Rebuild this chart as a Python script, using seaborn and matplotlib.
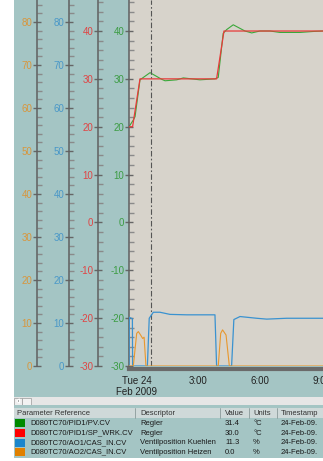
import matplotlib
matplotlib.use('Agg')
import matplotlib.pyplot as plt
import matplotlib.ticker as mticker
from matplotlib.patches import Rectangle, Polygon
import seaborn as sns

sns.set_style('white')
plt.rcParams['font.family'] = ['Liberation Sans', 'DejaVu Sans']
plt.rcParams['axes.unicode_minus'] = False

# Zeit in Stunden ab Tue 24 Feb 2009 00:00
t_sp = [-0.375, -0.2, 0.16, 3.89, 4.25, 9.07]
sp = [20, 20, 30, 30, 40, 40]

t_pv = [-0.36, -0.165, -0.08, 0.16, 0.65, 1.22, 1.38, 1.95, 2.27, 3.08, 3.81, 3.97,
        4.21, 4.38, 4.70, 5.27, 5.60, 6.0, 6.49, 6.97, 7.95, 8.58, 9.07]
pv = [20.1, 21.4, 22.1, 29.8, 31.3, 29.9, 29.6, 29.8, 30.2, 29.8, 30.0, 30.3,
      39.5, 40.3, 41.3, 40.0, 39.6, 40.0, 40.0, 39.7, 39.7, 39.9, 40.0]

t_kue = [-0.375, -0.36, -0.21, -0.2, 0.52, 0.61, 0.81, 1.13, 1.62, 2.43, 3.81, 3.89,
         4.62, 4.73, 5.03, 5.84, 6.33, 7.3, 8.76, 9.07]
kue = [0, 11.3, 11.0, 0, 0, 11.1, 12.5, 12.5, 12.0, 11.9, 11.9, 0,
       0, 10.8, 11.5, 11.1, 10.9, 11.1, 11.1, 11.1]

t_hei = [-0.375, -0.165, 0.0, 0.08, 0.19, 0.29, 0.36, 0.45, 3.97, 4.09, 4.18, 4.35, 4.51, 9.07]
hei = [0, 0, 7.6, 8.0, 7.2, 6.4, 6.7, 0, 0, 7.6, 8.4, 7.2, 0, 0]

t_cursor = 0.68
x_ticks = [0, 3, 6, 9]
x_labels = ['Tue 24\nFeb 2009', '3:00', '6:00', '9:00']

# Tabelle
refs = ['D080TC70/PID1/PV.CV', 'D080TC70/PID1/SP_WRK.CV', 'D080TC70/AO1/CAS_IN.CV', 'D080TC70/AO2/CAS_IN.CV']
descs = ['Regler', 'Regler', 'Ventilposition Kuehlen', 'Ventilposition Heizen']
values = ['31.4', '30.0', '11.3', '0.0']
units = ['°C', '°C', '%', '%']
stamps = ['24-Feb-09.', '24-Feb-09.', '24-Feb-09.', '24-Feb-09.']
swatches = ['#008a00', '#ff0000', '#1a86cc', '#e08000']
headers = ['Parameter Reference', 'Descriptor', 'Value', 'Units', 'Timestamp']

teal = '#a4c5c4'
beige = '#d7d3cb'
c_green, c_red, c_blue, c_orange = '#3aa83a', '#e83a3a', '#3a92d0', '#e8982e'
l_green, l_red, l_blue, l_orange = '#3c9c44', '#e04444', '#4a98c8', '#d8963c'

W, H = 323, 461
fig = plt.figure(figsize=(W / 100, H / 100), dpi=100)
fig.add_artist(Rectangle((14 / W, 3 / H), (W - 14) / W, 458 / H, transform=fig.transFigure,
                         facecolor=teal, edgecolor='none', zorder=-1))

ax = fig.add_axes([129 / W, (H - 366) / H, 194 / W, 366 / H])
ax.set_facecolor(beige)
ax_r = ax.twinx()
ax_b = ax.twinx()
ax_o = ax.twinx()

sns.lineplot(x=t_sp, y=sp, ax=ax, color=c_red, linewidth=0.9, estimator=None, zorder=3)
sns.lineplot(x=t_pv, y=pv, ax=ax, color=c_green, linewidth=0.8, estimator=None, zorder=2)
sns.lineplot(x=t_kue, y=kue, ax=ax_b, color=c_blue, linewidth=0.9, estimator=None)
sns.lineplot(x=t_hei, y=hei, ax=ax_b, color=c_orange, linewidth=0.8, estimator=None)
ax.axvline(t_cursor, color='#555555', linewidth=0.8, linestyle=(0, (5, 2, 1.5, 2)))

ax.set_xlim(-0.375, 9.07)
for a in (ax, ax_r):
    a.set_ylim(-30, 46.48)
for a in (ax_b, ax_o):
    a.set_ylim(0, 85.1)

ax.set_xticks(x_ticks)
ax.set_xticklabels(x_labels)
ax.xaxis.set_minor_locator(mticker.MultipleLocator(1))
ax.tick_params(axis='x', which='major', direction='inout', length=8, width=1, color='#555555',
               labelsize=7, labelcolor='#222222', pad=0.5)
ax.tick_params(axis='x', which='minor', direction='in', length=3.5, width=1, color='#666666')
ax.spines['bottom'].set_position(('outward', 2.5))
ax.spines['bottom'].set_linewidth(3)
ax.spines['bottom'].set_color('#6a6a6a')

for a, pos, col in [(ax, 0, l_green), (ax_r, -0.1598, l_red),
                    (ax_b, -0.3093, l_blue), (ax_o, -0.4742, l_orange)]:
    a.set_xlabel('')
    a.set_ylabel('')
    for s in ('top', 'right'):
        a.spines[s].set_visible(False)
    if a is not ax:
        a.spines['bottom'].set_visible(False)
        a.yaxis.tick_left()
    a.spines['left'].set_visible(True)
    a.spines['left'].set_position(('axes', pos))
    a.spines['left'].set_color('#606060')
    a.spines['left'].set_linewidth(1.1)
    a.yaxis.set_major_locator(mticker.MultipleLocator(10))
    a.yaxis.set_minor_locator(mticker.MultipleLocator(2))
    a.tick_params(axis='y', which='major', direction='inout', length=6, width=1,
                  color='#666666', labelcolor=col, labelsize=7, pad=0.5)
    a.tick_params(axis='y', which='minor', direction='in', length=3.5, width=1, color='#8a8a8a')

# Scrollbar
sc = fig.add_axes([14 / W, (H - 405) / H, (W - 14) / W, 8 / H])
sc.set_xlim(14, W)
sc.set_ylim(405, 397)
sc.axis('off')
sc.add_patch(Rectangle((14, 397), W - 14, 8, facecolor='#e6e6e6', edgecolor='none'))
sc.add_patch(Rectangle((14.5, 397.5), 7, 7, facecolor='#eeeeee', edgecolor='#9a9a9a', linewidth=0.5))
sc.add_patch(Polygon([[16.5, 401], [19.5, 399], [19.5, 403]], closed=True, facecolor='#111111'))
sc.add_patch(Rectangle((22, 397.5), 9, 7, facecolor='#f2f2f2', edgecolor='#9a9a9a', linewidth=0.5))

# Tabelle
tb = fig.add_axes([14 / W, (H - 458) / H, (W - 14) / W, 51 / H])
tb.set_xlim(14, W)
tb.set_ylim(458, 407)
tb.axis('off')
tb.add_patch(Rectangle((14, 407.5), W - 14, 10.5, facecolor='#cfd9d9', edgecolor='none'))
col_x = [17, 140, 225, 253, 281]
for xd in [135, 220, 249, 277]:
    tb.plot([xd, xd], [407.5, 418], color='#8a9a9a', linewidth=0.6)
for xh, h in zip(col_x, headers):
    tb.text(xh, 413, h, fontsize=5.5, color='#333333', va='center', ha='left')
row_y = [423, 433, 442.7, 452]
for i, y in enumerate(row_y):
    tb.add_patch(Rectangle((15.5, y - 4), 9, 8, facecolor=swatches[i], edgecolor='none'))
    tb.text(30, y, refs[i], fontsize=5.5, color='#1a1a1a', va='center')
    tb.text(140, y, descs[i], fontsize=5.5, color='#1a1a1a', va='center')
    tb.text(225, y, values[i], fontsize=5.5, color='#1a1a1a', va='center')
    tb.text(253, y, units[i], fontsize=5.5, color='#1a1a1a', va='center')
    tb.text(281, y, stamps[i], fontsize=5.5, color='#1a1a1a', va='center')

fig.savefig('out.png', dpi=100)
